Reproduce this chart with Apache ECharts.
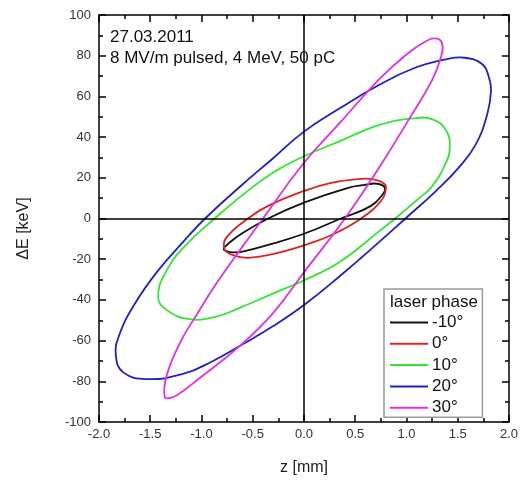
<!DOCTYPE html>
<html>
<head>
<meta charset="utf-8">
<script src="https://cdn.jsdelivr.net/npm/echarts@6/dist/echarts.min.js"></script>
<style>
html,body{margin:0;padding:0;background:#fff;}
#chart{width:521px;height:481px;}
</style>
</head>
<body>
<div id="chart"></div>
<script>
// ---- data: [z (mm), dE (keV)], closed loops ----
const seriesNames = ['-10°', '0°', '10°', '20°', '30°'];
const seriesColors = ['#111111', '#dd2222', '#33e633', '#2020c8', '#e62ee6'];

const phaseM10 = [[0,7.8],[0.43,15.1],[0.605,16.6],[0.69,17.2],[0.767,16.3],[0.79,14.8],[0.78,12.7],[0.654,6.2],[0.36,0],[0,-7.5],[-0.384,-13.5],[-0.56,-15.8],[-0.676,-16.6],[-0.757,-16.0],[-0.783,-14.8],[-0.742,-12.5],[-0.61,-7.5],[-0.35,0]];

const phase0 = [[0,13.5],[0.265,17.5],[0.557,19.5],[0.69,19.1],[0.78,17.2],[0.80,14.8],[0.75,8.6],[0.557,0],[0.297,-7.5],[0,-13.2],[-0.304,-17.5],[-0.547,-19.3],[-0.693,-18.0],[-0.775,-15.1],[-0.757,-9.4],[-0.547,0],[-0.35,6.2]];

const phase10 = [[0,30.6],[0.345,37.9],[0.735,46.0],[1.06,49.2],[1.254,48.7],[1.384,43.5],[1.423,35.4],[1.384,27.4],[1.254,16.1],[1.124,10.0],[0.89,0],[0.735,-6.2],[0.345,-21.5],[0,-30.4],[-0.304,-36.9],[-0.628,-43.9],[-0.855,-48.2],[-1.114,-49.5],[-1.341,-44.9],[-1.423,-38.5],[-1.341,-25.6],[-1.146,-12.7],[-0.871,0],[-0.628,10.4],[-0.304,22.5]];

const phase20 = [[0,42.7],[0.345,54.0],[0.735,65.7],[1.06,73.6],[1.384,78.2],[1.57,79.0],[1.74,75.8],[1.805,69.3],[1.825,62.9],[1.79,51.6],[1.676,36.4],[1.51,25.0],[1.287,13.5],[0.99,0],[0.735,-11.5],[0.345,-28.5],[0,-42.5],[-0.304,-53.0],[-0.628,-62.7],[-0.888,-70.0],[-1.18,-76.4],[-1.536,-78.9],[-1.763,-75.6],[-1.835,-67.6],[-1.805,-57.6],[-1.655,-42.3],[-1.43,-26.0],[-1.17,-11.0],[-0.965,0],[-0.628,15.5],[-0.304,29.5]];

const phase30 = [[0,27.4],[0.345,46.7],[0.735,68.5],[1.0,80.6],[1.19,87.1],[1.30,88.4],[1.35,85.5],[1.335,79.0],[1.25,68.0],[1.03,49.2],[0.72,24.0],[0.40,0],[0,-26.4],[-0.304,-46.6],[-0.628,-62.7],[-1.02,-78.5],[-1.24,-86.9],[-1.31,-88.2],[-1.36,-87.7],[-1.34,-77.2],[-1.21,-61.1],[-1.05,-47.5],[-0.855,-32.0],[-0.63,-15.9],[-0.40,0]];

const allPhases = [phaseM10, phase0, phase10, phase20, phase30];

const xTicks = {min: -2, max: 2, step: 0.5};
const yTicks = {min: -100, max: 100, step: 20};

const noteLines = ['27.03.2011', '8 MV/m pulsed, 4 MeV, 50 pC'];
const legendTitle = 'laser phase';
const xName = 'z [mm]';
const yName = 'ΔE [keV]';

// ---- chart ----
const chart = echarts.init(document.getElementById('chart'), null, {renderer: 'canvas'});
const FONT = 'Liberation Sans, Arial, sans-serif';
const axisLineStyle = {color: '#000', width: 1.5};

function makeAxis(base, extra) {
  return Object.assign({
    type: 'value',
    min: base.min, max: base.max, interval: base.step,
    axisLine: {show: true, onZero: false, lineStyle: axisLineStyle},
    axisTick: {show: true, inside: true, length: 7, lineStyle: {color: '#000', width: 1.5}},
    minorTick: {show: true, splitNumber: 2, length: 4, lineStyle: {color: '#000', width: 1.5}},
    splitLine: {show: false},
    minorSplitLine: {show: false}
  }, extra);
}

// each loop is drawn as one closed smooth curve through its data points,
// positioned with the axes' own scales (api.coord)
const series = allPhases.map((pts, i) => ({
  name: seriesNames[i],
  type: 'custom',
  coordinateSystem: 'cartesian2d',
  data: pts,
  itemStyle: {color: seriesColors[i]},
  z: 3,
  silent: true,
  renderItem: function (params, api) {
    if (params.dataIndex !== 0) return null;
    const pix = pts.map(p => api.coord(p));
    return {
      type: 'polygon',
      shape: {points: pix, smooth: 0.45},
      style: {fill: 'none', stroke: seriesColors[i], lineWidth: 1.8}
    };
  }
}));

series.unshift({
  name: 'zero',
  type: 'line',
  data: [],
  symbol: 'none',
  silent: true,
  z: 2,
  markLine: {
    silent: true,
    symbol: 'none',
    label: {show: false},
    lineStyle: {color: '#000', width: 1.5, type: 'solid'},
    emphasis: {disabled: true},
    data: [{xAxis: 0}, {yAxis: 0}]
  }
});

const option = {
  animation: false,
  backgroundColor: '#fff',
  textStyle: {fontFamily: FONT},
  grid: {left: 99, right: 11, top: 15, bottom: 53},
  xAxis: [
    makeAxis(xTicks, {
      position: 'bottom',
      axisLabel: {show: true, color: '#333', fontSize: 13, fontFamily: FONT, margin: 6,
        formatter: v => v.toFixed(1)},
      name: xName, nameLocation: 'middle', nameGap: 38,
      nameTextStyle: {color: '#222', fontSize: 16, fontFamily: FONT}
    }),
    makeAxis(xTicks, {position: 'top', axisLabel: {show: false}})
  ],
  yAxis: [
    makeAxis(yTicks, {
      position: 'left',
      axisLabel: {show: true, color: '#333', fontSize: 13, fontFamily: FONT, margin: 8},
      name: yName, nameLocation: 'middle', nameGap: 67,
      nameTextStyle: {color: '#222', fontSize: 16, fontFamily: FONT, padding: [0, 0, 0, -20]}
    }),
    makeAxis(yTicks, {position: 'right', axisLabel: {show: false}})
  ],
  legend: {
    data: seriesNames,
    orient: 'vertical',
    left: 384, top: 289,
    padding: [25, 19, 1, 6],
    itemGap: 4.3,
    itemWidth: 38, itemHeight: 2,
    icon: 'rect',
    borderColor: '#9a9a9a', borderWidth: 1.5,
    backgroundColor: '#fff',
    textStyle: {color: '#111', fontSize: 17, fontFamily: FONT, padding: [0, 0, 0, -1]},
    selectedMode: false
  },
  graphic: [
    {type: 'text', left: 110, top: 29, z: 10,
     style: {text: noteLines[0], fill: '#111', font: '17px ' + FONT}},
    {type: 'text', left: 110, top: 50, z: 10,
     style: {text: noteLines[1], fill: '#111', font: '17px ' + FONT}},
    {type: 'text', left: 390, top: 294, z: 10,
     style: {text: legendTitle, fill: '#111', font: '17px ' + FONT}}
  ],
  series: series
};
chart.setOption(option);
</script>
</body>
</html>
